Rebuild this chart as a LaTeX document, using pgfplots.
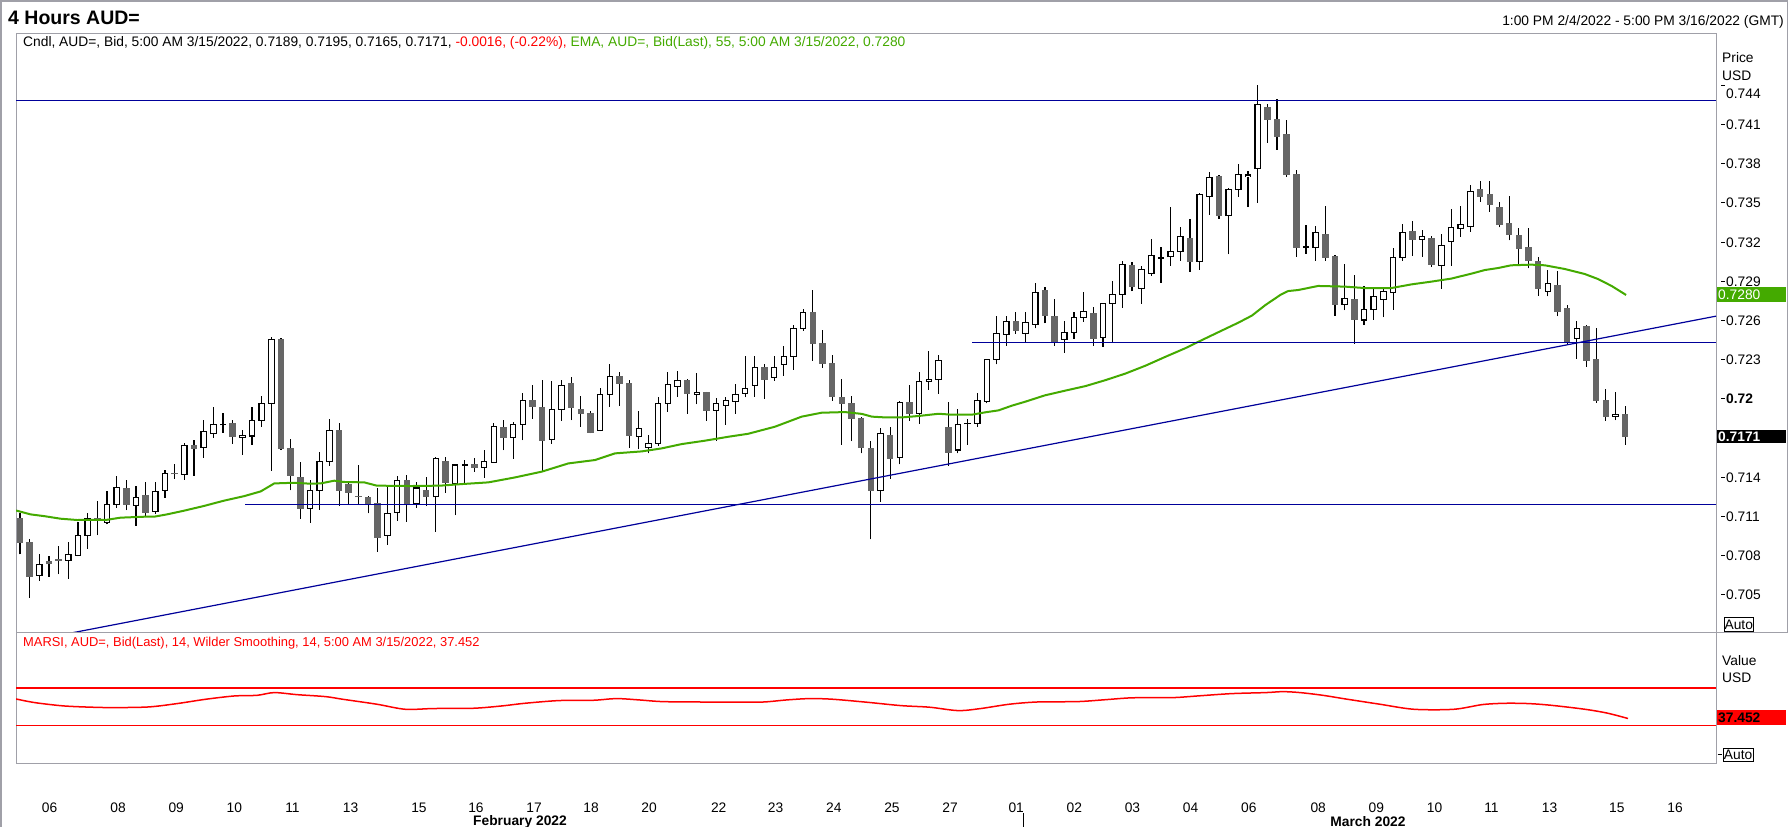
\documentclass[border=0pt]{standalone}
\usepackage{fontspec}
\setmainfont{Liberation Sans}
\usepackage{pgfplots}
\usepackage{pgfplotstable}
\pgfplotsset{compat=1.18}
\definecolor{cgray}{HTML}{666666}
\definecolor{cgreen}{HTML}{44AA00}
\definecolor{cblue}{HTML}{00009A}
\definecolor{cred}{HTML}{FF0000}
\definecolor{cframe}{HTML}{A0A0A8}
\newcommand\fs{\fontsize{13.8bp}{16bp}\selectfont}
\newcommand\ytl[1]{\rule[4.44bp]{3.5bp}{1bp}\hspace{1.5bp}#1}
\newcommand\ytltop[1]{\rule[4.44bp]{3.5bp}{1bp}\hspace{1.5bp}\smash{\raisebox{-8.2bp}{#1}}\vphantom{0}}
\pgfplotsset{candle/.style={only marks, mark=*, mark size=0pt, mark options={draw=none, fill=none}, forget plot}}

\pgfplotstableread{
i o h l c
0 0.71090 0.71126 0.70812 0.70901
1 0.70906 0.70927 0.70480 0.70641
2 0.70651 0.70812 0.70610 0.70735
3 0.70761 0.70799 0.70641 0.70735
4 0.70776 0.70876 0.70661 0.70764
5 0.70766 0.70906 0.70626 0.70812
6 0.70804 0.71059 0.70799 0.70957
7 0.70957 0.71128 0.70855 0.71085
8 0.71090 0.71220 0.70960 0.71070
9 0.71057 0.71297 0.71042 0.71195
10 0.71195 0.71411 0.71169 0.71325
11 0.71320 0.71381 0.71151 0.71192
12 0.71187 0.71335 0.71031 0.71248
13 0.71266 0.71366 0.71108 0.71131
14 0.71141 0.71366 0.71123 0.71294
15 0.71302 0.71457 0.71246 0.71432
16 0.71434 0.71503 0.71389 0.71424
17 0.71424 0.71661 0.71384 0.71646
18 0.71649 0.71684 0.71414 0.71621
19 0.71631 0.71837 0.71552 0.71753
20 0.71738 0.71940 0.71705 0.71807
21 0.71804 0.71894 0.71743 0.71809
22 0.71815 0.71840 0.71659 0.71713
23 0.71710 0.71761 0.71575 0.71725
24 0.71718 0.71940 0.71651 0.71837
25 0.71837 0.72024 0.71789 0.71968
26 0.71968 0.72475 0.71452 0.72457
27 0.72460 0.72465 0.71610 0.71621
28 0.71626 0.71695 0.71302 0.71414
29 0.71404 0.71519 0.71085 0.71161
30 0.71164 0.71378 0.71054 0.71302
31 0.71302 0.71595 0.71154 0.71524
32 0.71524 0.71850 0.71491 0.71761
33 0.71761 0.71817 0.71184 0.71299
34 0.71350 0.71355 0.71197 0.71284
35 0.71256 0.71496 0.71195 0.71251
36 0.71251 0.71259 0.71126 0.71200
37 0.71205 0.71317 0.70832 0.70940
38 0.70957 0.71325 0.70886 0.71126
39 0.71133 0.71411 0.71070 0.71378
40 0.71378 0.71422 0.71062 0.71195
41 0.71202 0.71366 0.71169 0.71320
42 0.71304 0.71401 0.71184 0.71253
43 0.71253 0.71557 0.70985 0.71547
44 0.71526 0.71557 0.71284 0.71360
45 0.71353 0.71503 0.71113 0.71496
46 0.71495 0.71531 0.71353 0.71500
47 0.71503 0.71549 0.71445 0.71475
48 0.71478 0.71610 0.71399 0.71524
49 0.71516 0.71815 0.71513 0.71794
50 0.71787 0.71840 0.71610 0.71705
51 0.71705 0.71822 0.71542 0.71807
52 0.71807 0.72047 0.71687 0.71991
53 0.71993 0.72108 0.71848 0.71942
54 0.71940 0.72146 0.71445 0.71682
55 0.71692 0.72139 0.71659 0.71922
56 0.71922 0.72146 0.71835 0.72105
57 0.72123 0.72169 0.71840 0.71935
58 0.71924 0.72024 0.71789 0.71889
59 0.71894 0.71909 0.71740 0.71743
60 0.71761 0.72087 0.71756 0.72036
61 0.72036 0.72269 0.71942 0.72174
62 0.72177 0.72208 0.71950 0.72118
63 0.72123 0.72146 0.71628 0.71720
64 0.71715 0.71909 0.71618 0.71776
65 0.71631 0.71725 0.71585 0.71661
66 0.71661 0.72019 0.71644 0.71968
67 0.71968 0.72207 0.71904 0.72113
68 0.72098 0.72218 0.72019 0.72144
69 0.72146 0.72156 0.71889 0.72042
70 0.72036 0.72200 0.71962 0.72052
71 0.72054 0.72058 0.71835 0.71912
72 0.71914 0.72008 0.71682 0.71968
73 0.71952 0.72014 0.71804 0.71991
74 0.71983 0.72113 0.71889 0.72036
75 0.72044 0.72330 0.72016 0.72082
76 0.72105 0.72330 0.72019 0.72243
77 0.72243 0.72269 0.72003 0.72149
78 0.72167 0.72327 0.72141 0.72243
79 0.72266 0.72409 0.72179 0.72327
80 0.72327 0.72567 0.72225 0.72541
81 0.72541 0.72690 0.72524 0.72664
82 0.72667 0.72835 0.72294 0.72424
83 0.72429 0.72529 0.72241 0.72271
84 0.72276 0.72338 0.71988 0.72019
85 0.72016 0.72154 0.71651 0.71965
86 0.71970 0.72024 0.71679 0.71850
87 0.71855 0.71860 0.71585 0.71628
88 0.71626 0.71679 0.70926 0.71300
89 0.71300 0.71777 0.71215 0.71738
90 0.71725 0.71787 0.71392 0.71544
91 0.71554 0.71985 0.71501 0.71975
92 0.71975 0.72108 0.71835 0.71886
93 0.71891 0.72208 0.71812 0.72136
94 0.72136 0.72368 0.72070 0.72151
95 0.72151 0.72338 0.72042 0.72297
96 0.71786 0.71978 0.71491 0.71590
97 0.71610 0.71924 0.71585 0.71807
98 0.71810 0.71848 0.71649 0.71815
99 0.71815 0.72044 0.71789 0.71991
100 0.71983 0.72310 0.71968 0.72305
101 0.72305 0.72636 0.72266 0.72504
102 0.72496 0.72636 0.72409 0.72593
103 0.72595 0.72667 0.72501 0.72524
104 0.72504 0.72667 0.72434 0.72588
105 0.72572 0.72886 0.72542 0.72817
106 0.72832 0.72858 0.72582 0.72638
107 0.72636 0.72766 0.72409 0.72434
108 0.72457 0.72598 0.72356 0.72511
109 0.72511 0.72664 0.72463 0.72626
110 0.72626 0.72820 0.72593 0.72672
111 0.72656 0.72705 0.72409 0.72463
112 0.72473 0.72738 0.72402 0.72733
113 0.72731 0.72904 0.72434 0.72802
114 0.72802 0.73057 0.72700 0.73031
115 0.73026 0.73047 0.72827 0.72860
116 0.72848 0.73019 0.72730 0.72994
117 0.72963 0.73226 0.72943 0.73101
118 0.73078 0.73161 0.72891 0.73085
119 0.73090 0.73470 0.73021 0.73131
120 0.73131 0.73317 0.73057 0.73246
121 0.73230 0.73378 0.72975 0.73052
122 0.73054 0.73577 0.72990 0.73566
123 0.73551 0.73738 0.73411 0.73697
124 0.73707 0.73715 0.73381 0.73404
125 0.73406 0.73618 0.73110 0.73605
126 0.73605 0.73799 0.73549 0.73720
127 0.73700 0.73743 0.73470 0.73715
128 0.73764 0.74404 0.73503 0.74256
129 0.74233 0.74256 0.73962 0.74139
130 0.74144 0.74297 0.73909 0.74009
131 0.74029 0.74136 0.73702 0.73715
132 0.73723 0.73753 0.73090 0.73159
133 0.73159 0.73336 0.73113 0.73167
134 0.73162 0.73325 0.73059 0.73274
135 0.73264 0.73478 0.73059 0.73083
136 0.73095 0.73100 0.72639 0.72723
137 0.72725 0.73034 0.72682 0.72771
138 0.72766 0.72950 0.72422 0.72608
139 0.72605 0.72866 0.72567 0.72687
140 0.72687 0.72861 0.72608 0.72787
141 0.72764 0.72840 0.72628 0.72825
142 0.72817 0.73156 0.72684 0.73085
143 0.73085 0.73340 0.73059 0.73276
144 0.73287 0.73363 0.73098 0.73220
145 0.73223 0.73294 0.73090 0.73246
146 0.73233 0.73248 0.73014 0.73029
147 0.73024 0.73264 0.72843 0.73177
148 0.73207 0.73454 0.73021 0.73314
149 0.73307 0.73478 0.73243 0.73337
150 0.73322 0.73638 0.73281 0.73590
151 0.73608 0.73672 0.73511 0.73549
152 0.73569 0.73672 0.73434 0.73488
153 0.73470 0.73508 0.73315 0.73335
154 0.73348 0.73554 0.73214 0.73258
155 0.73256 0.73307 0.73034 0.73151
156 0.73164 0.73312 0.73000 0.73059
157 0.73057 0.73090 0.72792 0.72845
158 0.72825 0.72988 0.72787 0.72886
159 0.72873 0.72983 0.72636 0.72669
160 0.72695 0.72720 0.72422 0.72427
161 0.72465 0.72598 0.72310 0.72542
162 0.72557 0.72565 0.72249 0.72294
163 0.72307 0.72544 0.71973 0.71988
164 0.71993 0.72078 0.71835 0.71866
165 0.71868 0.72055 0.71840 0.71886
166 0.71890 0.71950 0.71650 0.71710
}\candles

\pgfplotstableread{
i p
-0.41 0.71148
1.1 0.71118
2.48 0.71105
4.2 0.71085
5.93 0.71075
8.0 0.71077
9.03 0.71077
10.4 0.71093
12.8 0.71100
13.85 0.71100
15.2 0.71118
16.95 0.71146
19.0 0.71182
21.1 0.71223
23.2 0.71258
24.9 0.71294
26.3 0.71355
28.3 0.71360
30.0 0.71353
31.1 0.71355
32.5 0.71376
33.5 0.71366
35.6 0.71363
36.9 0.71338
40.4 0.71335
43.5 0.71338
45.69 0.71350
48.44 0.71363
51.2 0.71401
53.96 0.71445
56.71 0.71508
59.47 0.71534
61.54 0.71585
64.3 0.71600
66.36 0.71623
68.43 0.71656
70.84 0.71682
73.25 0.71712
75.32 0.71735
78.08 0.71789
80.84 0.71866
82.9 0.71896
85.32 0.71901
87.07 0.71887
88.1 0.71866
89.48 0.71860
91.2 0.71860
92.93 0.71871
95.0 0.71888
96.37 0.71881
98.44 0.71881
99.82 0.71899
101.2 0.71914
102.58 0.71950
103.95 0.71980
106.0 0.72029
108.1 0.72065
110.2 0.72100
112.2 0.72144
114.3 0.72195
116.4 0.72256
118.4 0.72322
120.5 0.72389
121.9 0.72440
123.9 0.72511
126.0 0.72585
127.4 0.72639
128.8 0.72720
130.4 0.72800
131.15 0.72827
132.2 0.72835
134.25 0.72866
137.0 0.72861
139.07 0.72850
141.83 0.72850
143.9 0.72878
145.95 0.72899
148.0 0.72922
150.1 0.72960
151.5 0.72988
152.85 0.73003
154.2 0.73024
156.3 0.73029
157.7 0.73024
159.75 0.72996
161.8 0.72958
163.2 0.72919
164.6 0.72866
166.1 0.72797
}\ema

\pgfplotstableread{
i v
-0.41 58.3
1.54 54.4
4.49 50.9
7.44 49.5
9.79 49.1
13.33 49.8
16.27 53.4
19.22 58.0
22.17 61.5
24.53 62.2
26.3 65.1
28.65 62.9
31.6 60.8
33.37 58.0
36.9 52.7
39.85 47.3
42.8 48.1
46.92 48.4
49.87 50.9
52.22 53.7
55.76 56.6
59.3 56.9
61.66 58.7
64.01 57.3
66.37 55.5
69.9 55.1
74.62 54.8
76.98 55.1
79.33 57.3
81.69 58.7
84.05 58.0
87.59 54.8
91.12 51.2
94.07 49.5
97.02 45.9
99.37 48.1
102.32 52.7
105.27 55.1
109.4 55.5
112.34 57.6
114.7 59.4
117.05 59.8
119.41 59.8
121.77 61.5
125.3 64.0
128.84 65.1
130.6 66.1
132.38 65.1
134.74 62.2
137.09 58.3
140.63 52.7
144.16 47.3
148.29 47.3
151.24 52.3
153.59 53.7
155.95 53.4
158.31 51.6
161.85 47.3
164.2 43.1
166.3 37.45
}\rsi

\begin{document}
\begin{tikzpicture}
\path[use as bounding box] (0,0) rectangle (1788bp,-827bp);
\fill[white] (0,0) rectangle (1788bp,-827bp);

% price panel
\begin{axis}[
  at={(16bp,-632bp)}, anchor=south west,
  scale only axis, width=1700bp, height=598bp,
  xmin=-0.41, xmax=175.4, ymin=0.70218, ymax=0.74794,
  axis line style={cframe, line width=1bp},
  xtick=\empty, scaled y ticks=false,
  ytick={0.705,0.708,0.711,0.714,0.72,0.723,0.726,0.729,0.732,0.735,0.738,0.741,0.744},
  yticklabels={\ytl{0.705},\ytl{0.708},\ytl{0.711},\ytl{0.714},\ytl{\textbf{0.72}},\ytl{0.723},\ytl{0.726},\ytl{0.729},\ytl{0.732},\ytl{0.735},\ytl{0.738},\ytl{0.741},\ytltop{0.744}},
  yticklabel pos=right, major tick length=0pt, tick style={draw=none},
  yticklabel style={anchor=west, inner sep=0pt, xshift=5bp, font=\fs},
]
% wicks
\addplot[candle, error bars/.cd, y dir=plus, y explicit, error mark=none, error bar style={draw=black, line width=1.1bp}]
  table[x=i, y=l, y error expr=\thisrow{h}-\thisrow{l}] {\candles};
% bearish bodies
\addplot[candle, error bars/.cd, y dir=plus, y explicit, error mark=none, error bar style={draw=cgray, line width=6.5bp}]
  table[x=i, y=c, y error expr={max(\thisrow{o}-\thisrow{c},0)}] {\candles};
% bullish bodies: outline
\addplot[candle, error bars/.cd, y dir=plus, y explicit, error mark=none, error bar style={draw=black, line width=6.5bp}]
  table[x=i, y expr=\thisrow{o}-0.00004, y error expr={(\thisrow{c}>=\thisrow{o}) ? (\thisrow{c}-\thisrow{o}+0.00008) : 0}] {\candles};
% bullish bodies: white inside
\addplot[candle, error bars/.cd, y dir=plus, y explicit, error mark=none, error bar style={draw=white, line width=4.3bp}]
  table[x=i, y expr=\thisrow{o}+0.00005, y error expr={max(\thisrow{c}-\thisrow{o}-0.0001,0)}] {\candles};
% EMA 55
\addplot[cgreen, line width=2bp] table[x=i, y=p] {\ema};
% drawn lines
\addplot[cblue, line width=1.4bp] coordinates {(-0.41,0.74285) (175.4,0.74285)};
\addplot[cblue, line width=1.4bp] coordinates {(98.5,0.72435) (175.4,0.72435)};
\addplot[cblue, line width=1.4bp] coordinates {(23.3,0.71195) (175.4,0.71195)};
\addplot[cblue, line width=1.2bp] coordinates {(0,0.70135) (175.4,0.72635)};
\end{axis}

% RSI panel
\begin{axis}[
  at={(16bp,-763bp)}, anchor=south west,
  scale only axis, width=1700bp, height=131bp,
  xmin=-0.41, xmax=175.4, ymin=-10, ymax=129.7,
  axis line style={cframe, line width=1bp},
  ytick=\empty, major tick length=0pt, tick style={draw=none},
  xtick={3.07,10.15,16.16,22.17,28.18,34.19,41.26,47.16,53.17,59.06,65.07,72.26,78.15,84.16,90.18,96.19,103.03,109.04,115.05,121.06,127.08,134.26,140.27,146.29,152.18,158.19,165.15,171.16},
  xticklabels={06,08,09,10,11,13,15,16,17,18,20,22,23,24,25,27,01,02,03,04,06,08,09,10,11,13,15,16},
  xticklabel style={anchor=center, yshift=-45bp, inner sep=0pt, font=\fs},
]
\addplot[cred, line width=1.8bp] coordinates {(-0.41,70) (175.4,70)};
\addplot[cred, line width=1.8bp] coordinates {(-0.41,30) (175.4,30)};
\addplot[cred, line width=1.5bp, smooth, tension=0.5] table[x=i, y=v] {\rsi};
\end{axis}

% frame and separators
\draw[cframe, line width=1bp] (16bp,-632bp) -- (1788bp,-632bp);
\draw[cframe, line width=1.5bp] (0.75bp,0) -- (0.75bp,-827bp);
\draw[cframe, line width=1.5bp] (0,-0.75bp) -- (1787.25bp,-0.75bp) -- (1787.25bp,-632bp);

% titles
\node[anchor=west, inner sep=0pt, font={\fontsize{19.5bp}{22bp}\selectfont\bfseries}] at (8bp,-17.5bp) {4 Hours AUD=};
\node[anchor=east, inner sep=0pt, font=\fs] at (1784bp,-21.7bp) {1:00 PM 2/4/2022 - 5:00 PM 3/16/2022 (GMT)};
\node[anchor=west, inner sep=0pt, font=\fs] at (23bp,-43bp) {Cndl, AUD=, Bid, 5:00 AM 3/15/2022, 0.7189, 0.7195, 0.7165, 0.7171, \textcolor{cred}{-0.0016, (-0.22\%),} \textcolor{cgreen}{EMA, AUD=, Bid(Last), 55, 5:00 AM 3/15/2022, 0.7280}};
\node[anchor=west, inner sep=0pt, font={\fontsize{12.9bp}{15bp}\selectfont}, text=cred] at (23bp,-643bp) {MARSI, AUD=, Bid(Last), 14, Wilder Smoothing, 14, 5:00 AM 3/15/2022, 37.452};

% right side labels
\node[anchor=west, inner sep=0pt, font=\fs] at (1722bp,-58bp) {Price};
\node[anchor=west, inner sep=0pt, font=\fs] at (1722bp,-75.6bp) {USD};
\fill[cgreen] (1717bp,-287bp) rectangle (1786bp,-302bp);
\node[anchor=west, inner sep=0pt, font=\fs, text=white] at (1718bp,-294.6bp) {0.7280};
\fill[black] (1717bp,-429.5bp) rectangle (1786bp,-443bp);
\node[anchor=west, inner sep=0pt, font={\fs\bfseries}, text=white] at (1718bp,-436.3bp) {0.7171};
\node[draw=black, line width=0.8bp, anchor=west, inner xsep=0.6bp, inner ysep=0pt, minimum height=14bp, font=\fs] at (1723.6bp,-624.5bp) {Auto};
\node[anchor=west, inner sep=0pt, font=\fs] at (1722bp,-661bp) {Value};
\node[anchor=west, inner sep=0pt, font=\fs] at (1722bp,-678bp) {USD};
\fill[cred] (1717bp,-710bp) rectangle (1786bp,-724.6bp);
\node[anchor=west, inner sep=0pt, font={\fs\bfseries}] at (1718bp,-717.3bp) {37.452};
\draw[black, line width=1bp] (1717.5bp,-754.8bp) -- (1721.9bp,-754.8bp);
\node[draw=black, line width=0.8bp, anchor=west, inner xsep=0.6bp, inner ysep=0pt, minimum height=13bp, font=\fs] at (1722.9bp,-754.8bp) {Auto};

% month labels
\node[inner sep=0pt, font={\fs\bfseries}] at (520bp,-822bp) {February 2022};
\node[inner sep=0pt, font={\fs\bfseries}] at (1368bp,-822bp) {March 2022};
\draw[black, line width=1bp] (1023bp,-813bp) -- (1023bp,-827bp);
\end{tikzpicture}
\end{document}
